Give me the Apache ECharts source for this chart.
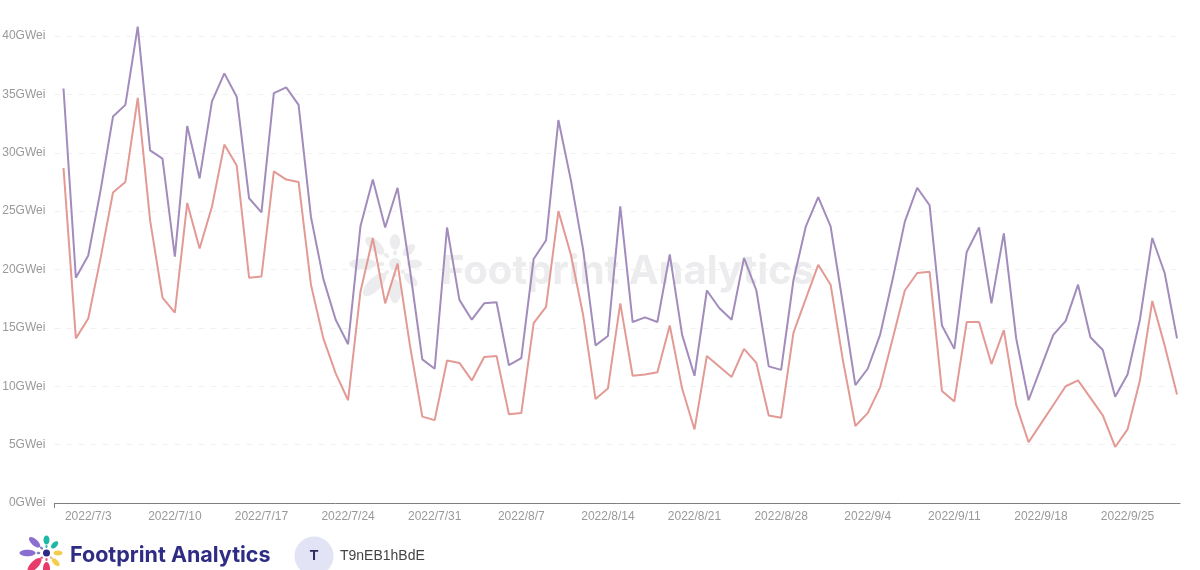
<!DOCTYPE html>
<html><head><meta charset="utf-8">
<style>html,body{margin:0;padding:0;background:#fff}#c{width:1200px;height:570px}</style>
<script src="https://cdn.jsdelivr.net/npm/echarts@6/dist/echarts.min.js"></script>
</head><body><div id="c"></div>
<script>
const startDate = [2022, 7, 1];
const purpleValues = [35.5,19.3,21.2,26.8,33.1,34.1,40.8,30.2,29.5,21.1,32.3,27.8,34.4,36.8,34.8,26.1,24.9,35.1,35.6,34.1,24.5,19.2,15.7,13.6,23.7,27.7,23.6,27.0,20.0,12.3,11.5,23.6,17.4,15.7,17.1,17.2,11.8,12.4,20.9,22.5,32.8,27.7,21.7,13.5,14.3,25.4,15.5,15.9,15.5,21.3,14.4,10.9,18.2,16.7,15.7,21.0,18.2,11.7,11.4,19.1,23.7,26.2,23.7,17.0,10.1,11.5,14.4,19.1,24.1,27.0,25.5,15.2,13.2,21.5,23.6,17.1,23.1,14.1,8.8,11.6,14.4,15.6,18.7,14.2,13.1,9.1,11.0,15.7,22.7,19.7,14.1];
const redValues = [28.7,14.1,15.8,21.0,26.6,27.5,34.7,24.2,17.6,16.3,25.7,21.8,25.4,30.7,28.9,19.3,19.4,28.4,27.7,27.5,18.7,14.1,11.1,8.8,18.1,22.7,17.1,20.5,13.5,7.4,7.1,12.2,12.0,10.5,12.5,12.6,7.6,7.7,15.4,16.8,25.0,21.3,16.1,8.9,9.8,17.1,10.9,11.0,11.2,15.2,9.8,6.3,12.6,11.7,10.8,13.2,12.0,7.5,7.3,14.6,17.5,20.4,18.7,12.2,6.6,7.7,9.9,14.0,18.2,19.7,19.8,9.6,8.7,15.5,15.5,11.9,14.8,8.4,5.2,6.8,8.4,10.0,10.5,9.0,7.5,4.8,6.3,10.5,17.3,13.5,9.3];
const labelIndexes = [2,9,16,23,30,37,44,51,58,65,72,79,86];
const logoPetals = [
 {c:'#8a6fd1',a:180,r:19,w:8,h:3.2},{c:'#8a6fd1',a:222,r:16,w:7,h:3.2},{c:'#1fb8a6',a:270,r:13,w:4.5,h:3},
 {c:'#1fb8a6',a:315,r:11.5,w:4.5,h:2.5},{c:'#f5cb4c',a:0,r:11.5,w:4.5,h:2.5},{c:'#f5cb4c',a:45,r:13,w:5,h:2.5},
 {c:'#e83a6b',a:90,r:16,w:7,h:3.5},{c:'#e83a6b',a:135,r:17,w:9,h:3.8},
 {c:'#7d7fb8',a:180,r:8,w:1.8,h:1.3},{c:'#7d7fb8',a:225,r:7,w:1.8,h:1.2},{c:'#3fbcae',a:270,r:6.5,w:1.5,h:1.2},
 {c:'#f0b9a0',a:45,r:6.5,w:1.5,h:1.2},{c:'#e85d84',a:90,r:6.5,w:1.5,h:1.2},{c:'#e85d84',a:135,r:7,w:1.6,h:1.2}];

function dateOf(i){const d=new Date(Date.UTC(startDate[0],startDate[1]-1,startDate[2]+i));
  return d.getUTCFullYear()+'/'+(d.getUTCMonth()+1)+'/'+d.getUTCDate();}
function logo(cx,cy,s,grey){
  const out=logoPetals.map(p=>({type:'ellipse',silent:true,z:grey?0:5,
    x:cx+Math.cos(p.a*Math.PI/180)*p.r*s,y:cy+Math.sin(p.a*Math.PI/180)*p.r*s,rotation:-p.a*Math.PI/180,
    shape:{cx:0,cy:0,rx:p.w*s,ry:p.h*s},style:{fill:grey?'#ececee':p.c}}));
  out.push({type:'circle',silent:true,z:grey?0:5,shape:{cx:cx,cy:cy,r:3.5*s},style:{fill:grey?'#ececee':'#2c2a86'}});
  return out;
}
const chart = echarts.init(document.getElementById('c'),null,{renderer:'canvas'});
const idx = purpleValues.map((_,i)=>i);
chart.setOption({
  animation:false,
  backgroundColor:'#fff',
  grid:{left:54.4,right:20,top:36,height:467,containLabel:false,outerBoundsMode:'none'},
  xAxis:{type:'value',min:-0.736,max:90.24,
    splitLine:{show:false},
    axisLine:{show:true,onZero:false,lineStyle:{color:'#7f7f7f',width:1}},
    axisTick:{show:true,length:5,lineStyle:{color:'#7f7f7f'},customValues:[-0.736]},
    axisLabel:{color:'#999',fontFamily:'Liberation Sans',fontSize:12,margin:8,
      customValues:labelIndexes,formatter:v=>dateOf(Math.round(v))}},
  yAxis:{type:'value',min:0,max:40,interval:5,
    axisLine:{show:false},axisTick:{show:false},
    axisLabel:{color:'#999',fontFamily:'Liberation Sans',fontSize:12,margin:9,formatter:v=>v+'GWei'},
    splitLine:{show:true,lineStyle:{color:'#f1f1f1',type:[6,6],width:1}}},
  series:[
    {type:'line',name:'purple',showSymbol:false,clip:false,z:3,lineStyle:{color:'#a28cbc',width:2},itemStyle:{color:'#a28cbc'},
      data:idx.map(i=>[i,purpleValues[i]])},
    {type:'line',name:'red',showSymbol:false,clip:false,z:4,lineStyle:{color:'#e39a95',width:2},itemStyle:{color:'#e39a95'},
      data:idx.map(i=>[i,redValues[i]])}
  ],
  graphic:[
    ...logo(395,264,1.7,true),
    {type:'text',silent:true,z:0,left:441,top:252,style:{text:'Footprint Analytics',fill:'#ececee',font:'700 40px Inter'}},
    ...logo(46.5,553,1,false),
    {type:'text',silent:true,z:5,left:70,top:545,style:{text:'Footprint Analytics',fill:'#2f2c85',font:'700 21.5px Inter'}},
    {type:'circle',silent:true,z:5,shape:{cx:314,cy:556,r:19.5},style:{fill:'#e3e3f6'}},
    {type:'text',silent:true,z:6,x:314,y:556,style:{text:'T',fill:'#2f2c60',font:'700 14px "Liberation Sans"',align:'center',verticalAlign:'middle'}},
    {type:'text',silent:true,z:6,left:340,top:549,style:{text:'T9nEB1hBdE',fill:'#444',font:'14px "Liberation Sans"'}}
  ]
});
</script></body></html>
